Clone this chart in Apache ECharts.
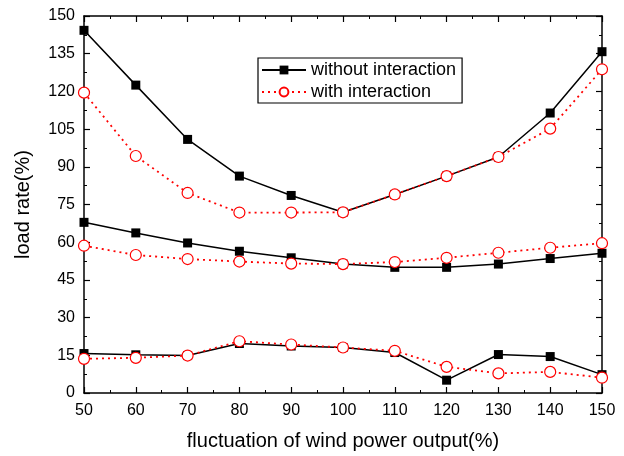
<!DOCTYPE html>
<html><head><meta charset="utf-8">
<script src="https://cdn.jsdelivr.net/npm/echarts@6/dist/echarts.min.js"></script>
<style>html,body{margin:0;padding:0;background:#fff}#c{width:624px;height:456px}</style>
</head><body><div id="c"></div>
<script>
const xValues = [50, 60, 70, 80, 90, 100, 110, 120, 130, 140, 150];
const withoutHigh = [144.3, 122.5, 100.9, 86.3, 78.6, 71.9, 79.0, 86.3, 93.9, 111.4, 135.8];
const withHigh    = [119.5, 94.3, 79.6, 71.8, 71.8, 71.9, 79.0, 86.3, 93.9, 105.2, 128.8];
const withoutMid  = [67.9, 63.7, 59.7, 56.4, 53.8, 51.3, 50.0, 50.0, 51.3, 53.5, 55.6];
const withMid     = [58.6, 54.9, 53.3, 52.3, 51.5, 51.3, 52.1, 53.8, 55.8, 57.8, 59.6];
const withoutLow  = [15.7, 15.2, 14.9, 19.7, 18.7, 18.1, 16.1, 5.1, 15.3, 14.5, 7.3];
const withLow     = [13.6, 14.0, 14.9, 20.6, 19.3, 18.1, 16.8, 10.4, 7.8, 8.4, 6.1];
const yTicks = [0, 15, 30, 45, 60, 75, 90, 105, 120, 135, 150];

const pair = arr => xValues.map((x, i) => [x, arr[i]]);
const FONT = 'Liberation Sans, Arial, sans-serif';

function blackSeries(arr) {
  return {
    name: 'without interaction', type: 'line', data: pair(arr),
    symbol: 'rect', symbolSize: 9, z: 2,
    lineStyle: {color: '#000', width: 1.5},
    itemStyle: {color: '#000'}
  };
}
function redSeries(arr) {
  return {
    name: 'with interaction', type: 'line', data: pair(arr),
    symbol: 'circle', symbolSize: 11, z: 3,
    lineStyle: {color: '#ff0000', width: 1.8, type: [2, 4]},
    itemStyle: {color: '#fff', borderColor: '#ff0000', borderWidth: 1.2}
  };
}

const axisBase = {
  axisLine: {show: true, onZero: false, lineStyle: {color: '#000', width: 1.5}},
  axisTick: {show: true, inside: true, length: 6, lineStyle: {color: '#000', width: 1.2}},
  minorTick: {show: true, splitNumber: 2, length: 3, lineStyle: {color: '#000', width: 1}},
  splitLine: {show: false}
};

const chart = echarts.init(document.getElementById('c'));
chart.setOption({
  animation: false,
  backgroundColor: '#fff',
  grid: {left: 84, right: 22, top: 16, bottom: 63},
  legend: {
    left: 258, top: 58, orient: 'vertical',
    itemWidth: 44, itemHeight: 11, itemGap: 4,
    padding: [3, 6, 2, 3],
    borderColor: '#000', borderWidth: 1.2,
    textStyle: {fontFamily: FONT, fontSize: 18, color: '#000'},
    data: ['without interaction', 'with interaction']
  },
  xAxis: [
    Object.assign({}, axisBase, {
      type: 'value', min: 50, max: 150, interval: 10, position: 'bottom',
      axisLabel: {fontFamily: FONT, fontSize: 16, color: '#000', margin: 10},
      name: 'fluctuation of wind power output(%)', nameLocation: 'middle', nameGap: 38,
      nameTextStyle: {fontFamily: FONT, fontSize: 20, color: '#000'}
    }),
    Object.assign({}, axisBase, {
      type: 'value', min: 50, max: 150, interval: 10, position: 'top',
      axisLabel: {show: false}
    })
  ],
  yAxis: [
    Object.assign({}, axisBase, {
      type: 'value', min: 0, max: 150, interval: 15, position: 'left',
      axisLabel: {fontFamily: FONT, fontSize: 16, color: '#000', margin: 9,
        formatter: v => yTicks.includes(v) ? String(v) : ''},
      name: 'load rate(%)', nameLocation: 'middle', nameGap: 51, nameRotate: 90,
      nameTextStyle: {fontFamily: FONT, fontSize: 20, color: '#000'}
    }),
    Object.assign({}, axisBase, {
      type: 'value', min: 0, max: 150, interval: 15, position: 'right',
      axisLabel: {show: false}
    })
  ],
  series: [
    blackSeries(withoutHigh), blackSeries(withoutMid), blackSeries(withoutLow),
    redSeries(withHigh), redSeries(withMid), redSeries(withLow)
  ]
});
</script></body></html>
